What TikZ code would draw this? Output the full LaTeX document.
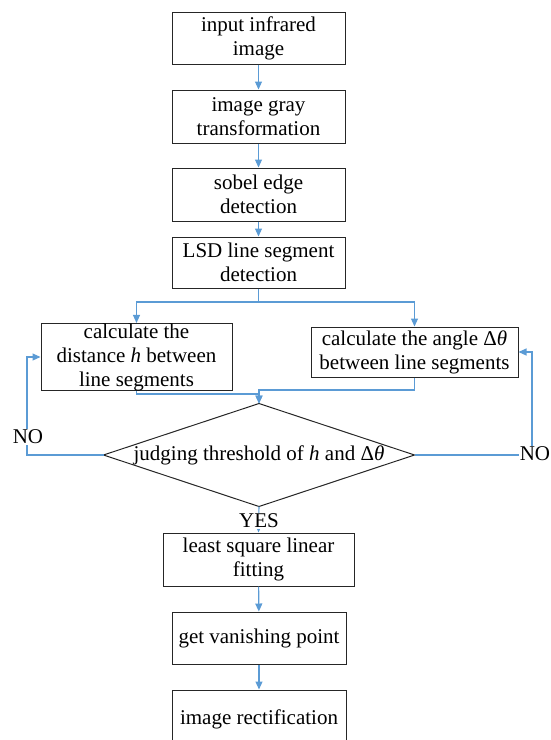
\documentclass[tikz,border=0pt]{standalone}
\usepackage{fontspec}
\setmainfont{Liberation Serif}
\usetikzlibrary{shapes.geometric,arrows.meta}
\definecolor{flowblue}{RGB}{91,155,213}
\begin{document}
\begin{tikzpicture}[x=1pt,y=-1pt,
  box/.style={draw=black!85,line width=1pt,inner sep=0pt,align=center,
    font=\fontsize{21}{24}\selectfont},
  arr/.style={draw=flowblue,line width=1.1pt,-{Triangle[length=8pt,width=7pt]}},
  ln/.style={draw=flowblue,line width=1.1pt},
  lab/.style={fill=white,inner sep=1pt,font=\fontsize{21}{24}\selectfont}]
\useasboundingbox (0,0) rectangle (550,740);
\node[box,minimum width=173,minimum height=52] (b1) at (258.5,38) {input infrared\\image};
\node[box,minimum width=173,minimum height=53] (b2) at (258.5,116.5) {image gray\\transformation};
\node[box,minimum width=173,minimum height=53] (b3) at (258.5,194.5) {sobel edge\\detection};
\node[box,minimum width=173,minimum height=51] (b4) at (258.5,262.5) {LSD line segment\\detection};
\node[box,minimum width=191,minimum height=62] (lb) at (136.5,357) {calculate the\\distance \textit{h} between\\line segments};
\node[box,minimum width=207,minimum height=50] (rb) at (414.5,352) {calculate the angle Δ\textit{θ}\\between line segments};
\node[diamond,draw=black!85,line width=1pt,inner sep=0pt,outer sep=0pt,
  minimum width=311,minimum height=103,
  label={[font=\fontsize{21}{24}\selectfont]center:judging threshold of \textit{h} and Δ\textit{θ}}] (d) at (259,455) {};
\node[box,minimum width=191,minimum height=53] (ls) at (258.5,559.5) {least square linear\\fitting};
\node[box,minimum width=174,minimum height=52] (gv) at (259,638) {get vanishing point};
\node[box,minimum width=174,minimum height=54,text depth=0pt] (ir) at (259,717) {image rectification};

\coordinate (split) at (258.5,302);
\coordinate (noL) at (27,455);
\coordinate (noR) at (532,455);

\draw[arr] (b1) -- (b2);
\draw[arr] (b2) -- (b3);
\draw[arr] (b3) -- (b4);
\draw[ln] (b4.south) -- (split);
\draw[arr] (split) -| (lb.north);
\draw[arr] (split) -| (rb.north);
\draw[arr] (lb.south) -- (lb.south |- 0,394) -| (d.north);
\draw[arr] (rb.south) -- (rb.south |- 0,390) -| (d.north);
\draw[arr] (d.west) -- (noL) |- (lb.west);
\draw[arr] (d.east) -- (noR) |- (rb.east);
\draw[arr] (d.south) -- (ls.north);
\draw[arr] (ls) -- (gv);
\draw[arr] (gv) -- (ir);

\node[lab] (nol) at (28,437) {NO};
\node[lab] (nor) at (535,454) {NO};
\node[lab,inner sep=0.5pt] (yes) at (259,521) {YES};
\end{tikzpicture}
\end{document}
